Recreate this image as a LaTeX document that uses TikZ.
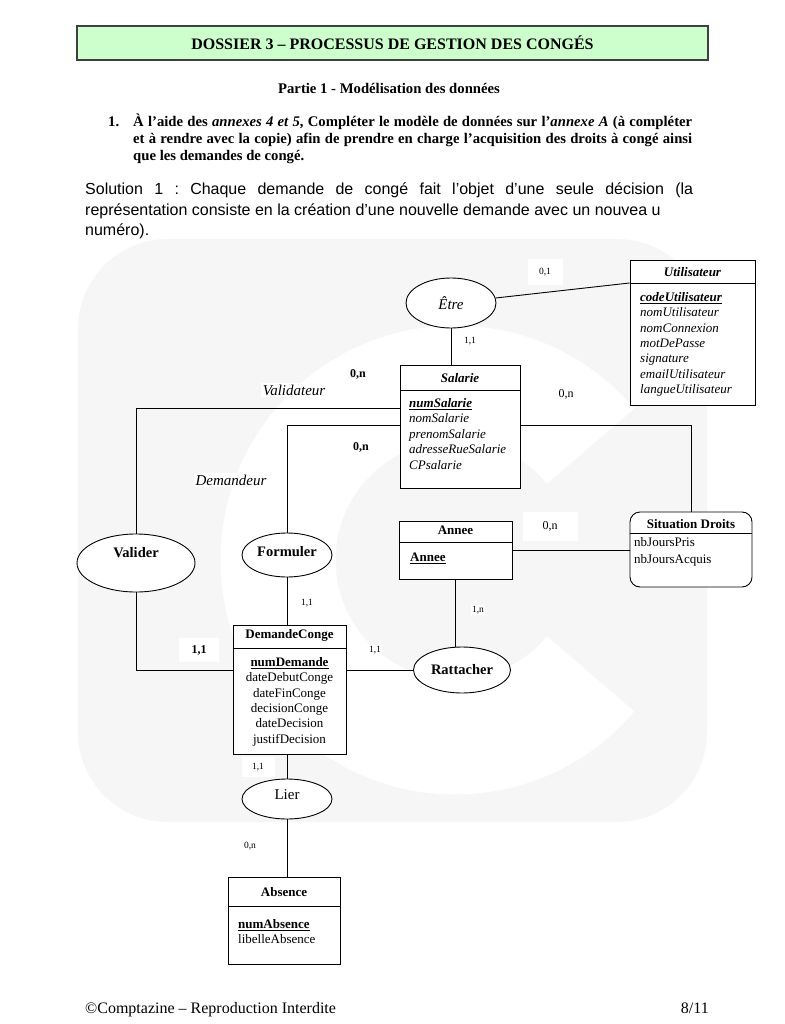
\documentclass[tikz,border=0pt]{standalone}
\usepackage{fontspec}
\setmainfont{Liberation Serif}
\setsansfont{Liberation Sans}
\usetikzlibrary{shapes.geometric}
\definecolor{headgreen}{RGB}{204,255,204}
\definecolor{wmark}{RGB}{246,246,246}
\newcommand{\relfont}{\fontsize{14.5}{17}\selectfont\bfseries}
\frenchspacing

\begin{document}
\begin{tikzpicture}[x=1pt, y=-1pt,
  hdr/.style={draw=black!75, line width=1.2pt, fill=headgreen, minimum width=631,
              minimum height=34, font=\fontsize{16}{19}\selectfont\bfseries},
  ent/.style={draw, line width=0.9pt, fill=white, inner sep=0pt},
  rel/.style={draw, ellipse, line width=0.9pt, fill=white, inner sep=0pt},
  ttl/.style={anchor=base, inner sep=0pt, font=\fontsize{13}{15}\selectfont\bfseries},
  att/.style={anchor=base west, inner sep=0pt, font=\fontsize{13}{15}\selectfont},
  lnk/.style={line width=0.9pt},
  card/.style={inner sep=1pt, fill=white, font=\fontsize{9.5}{11}\selectfont},
  cardn/.style={inner sep=2pt, fill=white, font=\fontsize{12}{14}\selectfont},
  role/.style={inner sep=2pt, fill=white, font=\fontsize{15}{18}\selectfont\itshape}]
\useasboundingbox[fill=white] (0,0) rectangle (784,1024);

% filigrane
\fill[wmark, rounded corners=90pt] (78,239) rectangle (707,822);
\draw[white, line width=115pt] (455,560) ++(40:177) arc (40:320:177);

% en-tete
\node[hdr] (head) at (392.5,43) {DOSSIER 3 – PROCESSUS DE GESTION DES CONGÉS};
\node[font=\fontsize{14.7}{17}\selectfont\bfseries] (partie) at (389,88)
  {Partie 1 - Modélisation des données};
\node[anchor=base west, inner sep=0pt, font=\fontsize{14.7}{17}\selectfont\bfseries]
  (num) at (108,126.5) {1.};
\node[anchor=base west, inner sep=0pt, text width=559, align=justify,
      font=\fontsize{14.7}{17}\selectfont\bfseries] (quest) at (133,126.5)
  {À l'aide des \textit{annexes 4 et 5}, Compléter le modèle de données sur l'\textit{annexe A} (à compléter\linebreak
   et à rendre avec la copie) afin de prendre en charge l'acquisition des droits à congé ainsi\linebreak
   que les demandes de congé.};
\node[anchor=base west, inner sep=0pt, text width=608, align=justify,
      font=\sffamily\fontsize{16}{20.5}\selectfont] (sol) at (85,195)
  {Solution 1 : Chaque demande de congé fait l'objet d'une seule décision (la\linebreak
   représentation consiste en la création d'une nouvelle demande avec un nouvea u\\
   numéro).};

% entites
\node[ent, minimum width=125, minimum height=145] (util) at (692.5,332.5) {};
\draw[lnk] (util.west |- 0,283) -- (util.east |- 0,283);
\node[ttl] (util-t) at (692.5,276.5) {\itshape Utilisateur};
\foreach \a [count=\i from 0] in {{\bfseries\underline{codeUtilisateur}}, nomUtilisateur,
    nomConnexion, motDePasse, signature, emailUtilisateur, langueUtilisateur}
  \node[att] (util-\i) at (640,{301.5+15.3*\i}) {\itshape\a};

\node[ent, minimum width=120, minimum height=123] (sal) at (460,426.5) {};
\draw[lnk] (sal.west |- 0,390) -- (sal.east |- 0,390);
\node[ttl] (sal-t) at (460,382.5) {\itshape Salarie};
\foreach \a [count=\i from 0] in {{\bfseries\underline{numSalarie}}, nomSalarie,
    prenomSalarie, adresseRueSalarie, CPsalarie}
  \node[att] (sal-\i) at (409,{407.5+15.4*\i}) {\itshape\a};

\node[ent, rounded corners=10pt, minimum width=122, minimum height=75] (sit) at (691,549.5) {};
\draw[lnk] (sit.west |- 0,533) -- (sit.east |- 0,533);
\node[ttl] (sit-t) at (691,528.5) {Situation Droits};
\node[att] (sit-1) at (634,546.5) {nbJoursPris};
\node[att] (sit-2) at (634,563.5) {nbJoursAcquis};

\node[ent, minimum width=113, minimum height=58] (annee) at (455.5,550) {};
\draw[lnk] (annee.west |- 0,542) -- (annee.east |- 0,542);
\node[ttl] (annee-t) at (455.5,534.5) {Annee};
\node[att] (annee-1) at (410,561.5) {\bfseries\underline{Annee}};

\node[ent, minimum width=113, minimum height=129] (dem) at (289.5,689.5) {};
\draw[lnk] (dem.west |- 0,648) -- (dem.east |- 0,648);
\node[ttl] (dem-t) at (289.5,638.5) {DemandeConge};
\foreach \a [count=\i from 0] in {{\bfseries\underline{numDemande}}, dateDebutConge,
    dateFinConge, decisionConge, dateDecision, justifDecision}
  \node[att, anchor=base] (dem-\i) at (289.5,{666.5+15.3*\i}) {\a};

\node[ent, minimum width=112, minimum height=87] (abs) at (284,920.5) {};
\draw[lnk] (abs.west |- 0,906) -- (abs.east |- 0,906);
\node[ttl] (abs-t) at (284,896.5) {Absence};
\node[att] (abs-1) at (238,928.5) {\bfseries\underline{numAbsence}};
\node[att] (abs-2) at (238,943.5) {libelleAbsence};

% associations
\node[rel, minimum width=90, minimum height=50, font=\fontsize{15}{18}\selectfont\itshape]
  (etre) at (451,303) {Être};
\node[rel, minimum width=118, minimum height=58, font=\relfont, text height=10, text depth=21]
  (valider) at (136,563) {Valider};
\node[rel, minimum width=90, minimum height=44, font=\relfont, text height=10, text depth=8]
  (form) at (287,555) {Formuler};
\node[rel, minimum width=97, minimum height=46, font=\relfont] (rat) at (462,670) {Rattacher};
\node[rel, minimum width=90, minimum height=40, font=\fontsize{15}{18}\selectfont,
      text height=10, text depth=10] (lier) at (287,799) {Lier};

% liens
\draw[lnk] (etre) -- (util.west |- 0,283);
\draw[lnk] (etre.south) -- (etre.south |- sal.north);
\draw[lnk] (sal.west |- 0,408) -| (valider.north);
\draw[lnk] (valider.south) |- (dem.west |- rat);
\draw[lnk] (sal.west |- 0,425) -| (form.north);
\draw[lnk] (form.south) -- (form.south |- dem.north);
\draw[lnk] (sal.east |- 0,425) -| (sit.north);
\draw[lnk] (annee.east) -- (annee.east -| sit.west);
\draw[lnk] (annee.south) -- (annee.south |- rat.north);
\draw[lnk] (dem.east |- rat) -- (rat.west);
\draw[lnk] (dem.south -| lier) -- (lier.north);
\draw[lnk] (lier.south) -- (lier.south |- abs.north);

% cardinalites et roles
\node[card, minimum width=35, minimum height=26] (c-util) at (545,272) {0,1};
\node[card] (c-etre) at (470,341) {1,1};
\node[cardn, font=\fontsize{12}{14}\selectfont\bfseries] (c-val) at (358,374) {0,n};
\node[role] (r-val) at (294,390) {Validateur};
\node[cardn, minimum width=58, minimum height=30] (c-sit) at (566,394) {0,n};
\node[cardn, font=\fontsize{12}{14}\selectfont\bfseries] (c-dmd) at (361,447) {0,n};
\node[role] (r-dmd) at (231,480) {Demandeur};
\node[cardn, minimum width=55, minimum height=29] (c-an) at (550,526) {0,n};
\node[card] (c-rat) at (478,610) {1,n};
\node[card] (c-form) at (307,603) {1,1};
\node[cardn, font=\fontsize{12}{14}\selectfont\bfseries, minimum width=40, minimum height=24]
  (c-valid) at (199,650) {1,1};
\node[card] (c-rdem) at (375,650) {1,1};
\node[card, minimum width=33, minimum height=20] (c-lier) at (258,767) {1,1};
\node[card] (c-abs) at (250,846) {0,n};

% pied de page
\node[anchor=base west, inner sep=0pt, font=\fontsize{16}{19}\selectfont] (foot) at (85,1013)
  {©Comptazine – Reproduction Interdite};
\node[anchor=base east, inner sep=0pt, font=\fontsize{16}{19}\selectfont] (page) at (709,1013) {8/11};
\end{tikzpicture}
\end{document}
